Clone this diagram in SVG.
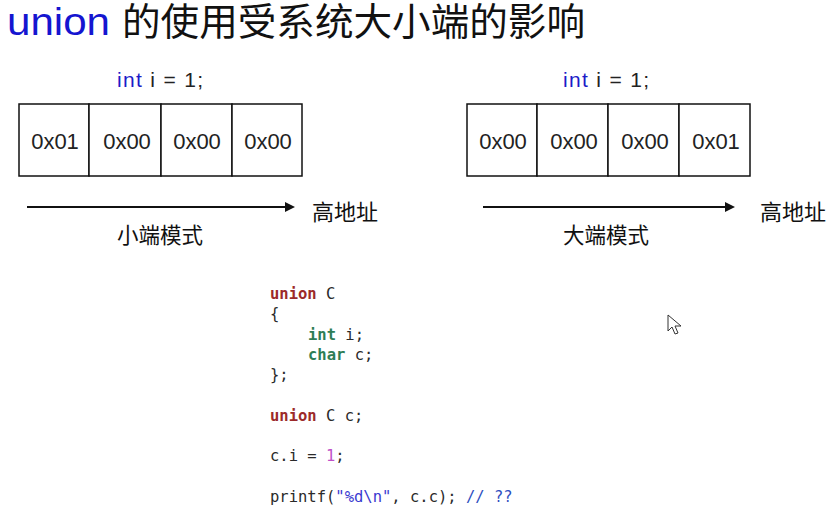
<svg xmlns="http://www.w3.org/2000/svg" width="833" height="515" viewBox="0 0 833 515">
<defs>
<style>
.cjk{font-family:"Liberation Sans","Noto Sans CJK SC",sans-serif;fill:#111}
.cell{fill:#fff;stroke:#111;stroke-width:1.5}
.val{font-family:"Liberation Sans","Noto Sans CJK SC",sans-serif;font-size:22px;fill:#222;text-anchor:middle}
.decl{font-family:"Liberation Sans",sans-serif;font-size:21px;fill:#222}
.kwb{fill:#1c1cc8}
.code{font-family:"DejaVu Sans Mono","Liberation Mono",monospace;font-size:15.5px;fill:#2a2a2a}
.kw{fill:#9c2a2a;font-weight:bold}
.ty{fill:#2e7d55;font-weight:bold}
.num{fill:#c050c8}
.str{fill:#3a3ad0}
.cmt{fill:#2f4fc0}
.conn{stroke:#111;stroke-width:2;fill:none;marker-end:url(#ah)}
</style>
<marker id="ah" markerWidth="10" markerHeight="10" refX="8" refY="5" orient="auto" markerUnits="userSpaceOnUse">
<path d="M0,0 L10,5 L0,10 Z" fill="#111"/>
</marker>
</defs>
<rect width="833" height="515" fill="#fff"/>

<g id="title">
<text x="7" y="35" font-size="38.5" class="cjk" textLength="103" lengthAdjust="spacingAndGlyphs"><tspan fill="#1515d0">union</tspan></text>
<text x="122" y="35" font-size="38" class="cjk" textLength="463" lengthAdjust="spacingAndGlyphs">的使用受系统大小端的影响</text>
</g>

<g id="little-endian">
<text x="117" y="87" class="decl" textLength="86"><tspan class="kwb">int</tspan> i = 1;</text>
<rect class="cell" x="19" y="104" width="70" height="72"/>
<rect class="cell" x="89" y="104" width="72" height="72"/>
<rect class="cell" x="161" y="104" width="71" height="72"/>
<rect class="cell" x="232" y="104" width="70" height="72"/>
<text class="val" x="55" y="149">0x01</text>
<text class="val" x="127" y="149">0x00</text>
<text class="val" x="197" y="149">0x00</text>
<text class="val" x="268" y="149">0x00</text>
<text class="cjk" x="312" y="220" font-size="22">高地址</text>
<text class="cjk" x="117" y="243" font-size="21.5">小端模式</text>
</g>

<g id="big-endian">
<text x="563" y="87" class="decl" textLength="86"><tspan class="kwb">int</tspan> i = 1;</text>
<rect class="cell" x="467" y="104" width="70" height="72"/>
<rect class="cell" x="537" y="104" width="71" height="72"/>
<rect class="cell" x="608" y="104" width="71" height="72"/>
<rect class="cell" x="679" y="104" width="71" height="72"/>
<text class="val" x="503" y="149">0x00</text>
<text class="val" x="574" y="149">0x00</text>
<text class="val" x="645" y="149">0x00</text>
<text class="val" x="716" y="149">0x01</text>
<text class="cjk" x="760" y="220" font-size="22">高地址</text>
<text class="cjk" x="563" y="243" font-size="21.5">大端模式</text>
</g>

<g id="connectors">
<line class="conn" x1="27" y1="207" x2="293" y2="207"/>
<line class="conn" x1="483" y1="207" x2="733" y2="207"/>
</g>

<g id="code" class="code">
<text x="270" y="299"><tspan class="kw">union</tspan> C</text>
<text x="270" y="319">{</text>
<text x="308" y="340"><tspan class="ty">int</tspan> i;</text>
<text x="308" y="360"><tspan class="ty">char</tspan> c;</text>
<text x="270" y="380">};</text>
<text x="270" y="421"><tspan class="kw">union</tspan> C c;</text>
<text x="270" y="461">c.i = <tspan class="num">1</tspan>;</text>
<text x="270" y="502">printf(<tspan class="str">"%d\n"</tspan>, c.c); <tspan class="cmt">// ??</tspan></text>
</g>

<g id="cursor">
<path d="M668,315 L668,331 L672,327 L675,334 L678,333 L675,326 L681,326 Z" fill="#fff" stroke="#333" stroke-width="1"/>
</g>
</svg>
